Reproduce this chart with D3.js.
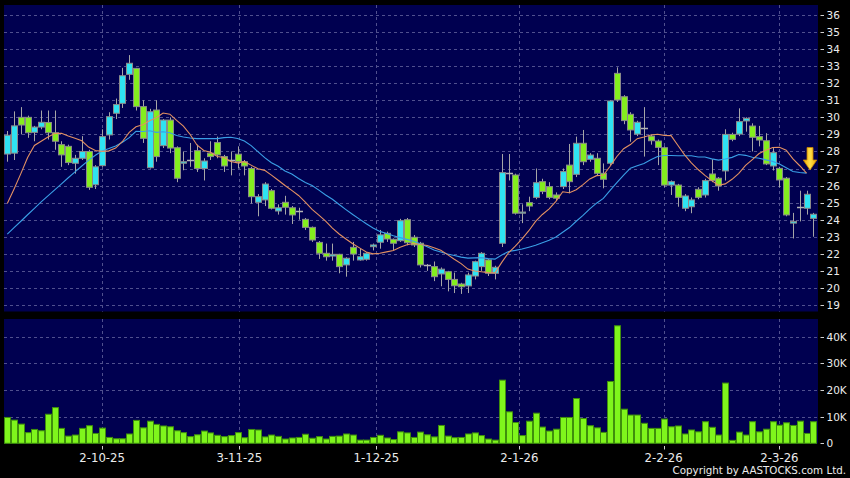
<!DOCTYPE html>
<html><head><meta charset="utf-8">
<script src="https://cdn.jsdelivr.net/npm/d3@7"></script>
<style>html,body{margin:0;padding:0;background:#000;}svg{display:block;}</style>
</head><body>
<svg id="chart" width="850" height="478"></svg>
<script>
// ---- data ----
const openP = [27.85,27.9,30.0,30.0,29.12,29.43,29.7,29.1,28.4,28.3,27.31,27.6,28.0,26.05,27.17,28.97,30.24,30.82,32.52,32.87,
30.63,27.05,30.43,28.34,29.84,28.22,27.31,27.5,28.05,27.0,27.9,28.52,27.7,27.5,27.84,27.4,27.0,25.02,25.16,25.7,
24.51,25.02,24.7,24.5,24.02,23.55,22.67,22.03,21.87,21.97,21.35,22.38,21.64,21.68,22.42,22.68,23.2,22.85,22.77,24.0,
22.97,22.62,21.32,21.25,20.82,20.95,20.5,20.23,20.12,20.7,21.25,21.64,20.86,22.62,26.76,26.62,24.38,25.0,25.31,26.23,
25.94,25.45,25.94,27.2,26.66,28.48,27.54,27.6,26.72,27.31,32.58,31.21,30.18,29.02,29.4,28.9,28.61,28.22,26.03,26.03,
24.67,24.76,25.78,25.45,26.68,26.43,26.86,29.0,29.02,29.79,29.49,28.87,28.63,27.15,27.01,26.43,23.8,24.73,24.67,24.08];
const highP = [29.2,30.35,30.6,30.1,29.5,30.4,30.4,30.4,28.6,28.4,27.8,28.9,28.1,27.2,29.3,30.3,31.1,32.9,33.65,32.9,
31.0,30.5,31.0,29.9,30.0,28.3,28.0,28.5,28.4,27.6,28.6,28.87,27.8,28.0,28.3,27.5,27.1,25.5,26.2,25.8,
24.9,25.4,24.8,24.7,24.1,23.6,22.75,22.6,22.6,22.0,21.8,22.7,22.3,22.1,22.6,23.4,23.3,22.9,24.05,24.1,
23.1,22.7,21.4,21.55,21.2,21.0,20.9,20.3,20.9,21.6,22.1,21.7,21.3,27.85,27.85,26.7,24.9,25.35,27.0,26.4,
26.2,25.6,27.0,28.44,28.87,29.26,27.9,27.9,27.3,31.0,32.93,31.3,30.3,29.8,30.6,29.0,28.7,28.3,26.3,26.1,
25.5,25.3,25.9,26.4,27.54,26.5,29.3,29.1,30.53,30.0,29.65,29.5,29.07,28.2,27.1,26.5,24.4,25.7,25.7,24.4];
const lowP = [27.4,27.5,29.0,28.8,28.6,29.3,28.7,28.1,27.1,27.2,26.7,27.5,25.75,25.8,27.1,28.7,29.9,30.55,32.2,30.4,
28.5,27.0,27.4,28.2,27.9,26.2,26.9,27.1,26.8,26.3,27.5,27.6,26.8,26.6,27.0,26.6,24.95,24.2,24.8,24.6,
24.3,24.3,23.75,24.0,23.4,22.7,21.7,21.6,21.6,20.86,20.66,21.6,21.6,21.6,22.2,22.3,22.7,22.2,22.7,22.5,
22.4,21.2,21.0,20.4,20.1,19.8,19.7,19.65,19.7,20.5,21.0,20.7,20.5,22.4,26.3,24.3,23.8,24.5,25.2,25.5,
25.2,25.1,25.8,25.55,26.5,27.2,27.4,26.6,25.84,27.2,30.9,29.6,28.57,28.9,27.7,28.4,27.2,25.9,25.45,24.76,
24.5,24.38,25.2,25.3,26.2,25.7,26.3,28.6,28.9,29.16,28.0,28.3,27.2,26.88,25.9,24.2,22.9,23.9,24.3,23.0];
const closeP = [28.95,29.5,29.55,29.1,29.43,29.71,29.1,28.6,27.8,27.35,27.6,28.0,25.9,27.1,28.87,30.04,30.75,32.44,33.17,30.63,
28.77,30.33,27.7,29.84,28.2,26.43,27.4,27.5,27.0,27.44,27.7,27.8,27.15,27.5,27.4,27.15,25.35,25.35,26.09,24.67,
24.7,24.73,24.28,24.5,23.55,22.81,22.03,21.83,21.97,21.25,21.74,21.99,21.83,22.03,22.52,23.11,22.87,22.62,23.94,22.65,
22.52,21.35,21.32,20.66,21.1,20.5,20.13,20.07,20.76,21.54,22.03,20.86,21.21,26.76,26.76,24.38,24.45,24.8,26.17,25.65,
25.31,25.26,26.82,26.23,28.48,27.4,27.79,26.72,26.37,30.96,31.02,29.81,29.26,29.71,29.4,28.63,28.24,26.03,26.23,25.31,
25.39,25.16,25.31,26.29,26.29,25.98,29.0,28.71,29.75,29.94,28.83,28.67,27.27,27.93,26.33,24.28,23.9,24.73,25.49,24.32];
const volumeK = [9.7,8.7,7.2,4.0,5.2,4.7,10.9,13.4,5.6,2.7,3.1,5.6,6.6,3.7,5.7,2.2,1.7,1.7,3.5,8.6,
5.8,8.3,7.1,6.5,6.2,4.7,4.0,2.5,3.2,4.6,3.9,3.0,2.5,2.9,4.0,2.1,5.2,5.0,2.4,3.1,
2.6,1.6,2.0,2.2,3.4,1.9,2.5,1.6,2.6,2.7,3.5,3.1,1.2,1.2,2.2,3.0,2.0,1.4,4.3,3.9,
2.2,4.2,3.2,2.4,6.7,2.7,2.1,2.2,3.5,3.9,2.9,1.6,1.2,23.7,11.8,7.8,2.9,8.3,11.3,6.1,
4.6,5.3,9.7,9.7,16.8,9.3,6.6,5.8,4.1,23.2,44.1,12.8,10.6,10.6,7.5,5.6,5.6,9.1,6.2,6.5,
3.5,5.0,4.3,8.1,6.0,3.1,22.6,1.1,4.2,3.1,8.1,4.3,5.3,8.1,6.8,7.7,6.7,8.3,3.7,8.1];
const ma10Head = [24.95,25.8,26.7,27.65,28.35,28.6,28.85,29.05,29.07];
const ma20Head = [23.16,23.54,23.91,24.29,24.66,25.04,25.4,25.75,26.1,26.46,26.8,27.15,27.48,27.78,28.03,28.17,28.32,28.54,28.81];
const maPoints = 119; // MA lines stop one session before the last candle
const priceTicks = [19,20,21,22,23,24,25,26,27,28,29,30,31,32,33,34,35,36];
const volumeTicks = [0,10,20,30,40];
const volumeTickLabels = ["0","10K","20K","30K","40K"];
const dateLabels = ["2-10-25","3-11-25","1-12-25","2-1-26","2-2-26","2-3-26"];
const dateIndex = [14,34.25,54.5,75.6,96.9,114];

// ---- layout ----
const W = 850, H = 478;
const L = 4, R = 818;
const pTop = 5, pBot = 311.5;
const vTop = 319, vBot = 443.5;
const n = closeP.length;

const svg = d3.select("#chart");
const x = d3.scaleLinear().domain([0, n - 1]).range([7.3, 813.3]);
const y = d3.scaleLinear().domain([19, 36]).range([305, 15]);
const yv = d3.scaleLinear().domain([0, 40]).range([443.3, 336.7]);
const px = v => Math.round(v) + 0.5;

const PANEL = "#000050", GRID = "#50508e";
const CYAN = "#2fe3f2", GREEN = "#84ee1e", EDGE = "#8a8a8a", WICK = "#a6a6a6";
const FONT = "DejaVu Sans, Verdana, sans-serif";

const defs = svg.append("defs");
defs.append("clipPath").attr("id","clipP").append("rect").attr("x",L).attr("y",pTop).attr("width",R-L).attr("height",pBot-pTop);
const grad = defs.append("linearGradient").attr("id","arrowG").attr("x1",0).attr("x2",1).attr("y1",0).attr("y2",0);
grad.append("stop").attr("offset","0%").attr("stop-color","#f0a800");
grad.append("stop").attr("offset","50%").attr("stop-color","#ffe04a");
grad.append("stop").attr("offset","100%").attr("stop-color","#f0a800");

svg.append("rect").attr("width",W).attr("height",H).attr("fill","#000");
svg.append("rect").attr("x",L).attr("y",pTop).attr("width",R-L).attr("height",pBot-pTop).attr("fill",PANEL);
svg.append("rect").attr("x",L).attr("y",vTop).attr("width",R-L).attr("height",vBot-vTop).attr("fill",PANEL);

// grids
const g = svg.append("g").attr("stroke",GRID).attr("stroke-width",1).attr("stroke-dasharray","3,3").attr("fill","none");
g.selectAll(".hp").data(priceTicks).join("line").attr("x1",L).attr("x2",R).attr("y1",d=>px(y(d))).attr("y2",d=>px(y(d)));
g.selectAll(".hv").data(volumeTicks.slice(1)).join("line").attr("x1",L).attr("x2",R).attr("y1",d=>px(yv(d))).attr("y2",d=>px(yv(d)));
g.selectAll(".vp").data(dateIndex).join("line").attr("x1",d=>px(x(d))).attr("x2",d=>px(x(d))).attr("y1",pTop).attr("y2",pBot);
g.selectAll(".vv").data(dateIndex).join("line").attr("x1",d=>px(x(d))).attr("x2",d=>px(x(d))).attr("y1",vTop).attr("y2",vBot);

// candles
const idx = d3.range(n);
const cg = svg.append("g").attr("clip-path","url(#clipP)");
cg.selectAll(".wick").data(idx).join("line")
  .attr("x1",i=>px(x(i))).attr("x2",i=>px(x(i)))
  .attr("y1",i=>y(highP[i])).attr("y2",i=>y(lowP[i]))
  .attr("stroke",WICK).attr("stroke-width",1);
const bodies = idx.filter(i => closeP[i] !== openP[i]);
cg.selectAll(".body").data(bodies).join("rect")
  .attr("x",i=>Math.round(x(i))-2.5).attr("width",6)
  .attr("y",i=>y(Math.max(openP[i],closeP[i])))
  .attr("height",i=>Math.max(1,Math.abs(y(openP[i])-y(closeP[i]))))
  .attr("fill",i=>closeP[i]>openP[i]?CYAN:GREEN)
  .attr("stroke",EDGE).attr("stroke-width",1);
cg.selectAll(".doji").data(idx.filter(i=>closeP[i]===openP[i])).join("line")
  .attr("x1",i=>Math.round(x(i))-3).attr("x2",i=>Math.round(x(i))+4)
  .attr("y1",i=>px(y(openP[i]))).attr("y2",i=>px(y(openP[i])))
  .attr("stroke","#b4b4b4").attr("stroke-width",1.5);

// moving averages
const ma = (head, len) => d3.range(maPoints).map(i => i < len - 1 ? head[i] : d3.mean(closeP.slice(i - len + 1, i + 1)));
const ma10 = ma(ma10Head, 10), ma20 = ma(ma20Head, 20);
const line = d3.line().x((d,i)=>x(i)).y(d=>y(d));
cg.append("path").datum(ma20).attr("d",line).attr("fill","none").attr("stroke","#3a9fe6").attr("stroke-width",1.1);
cg.append("path").datum(ma10).attr("d",line).attr("fill","none").attr("stroke","#e39062").attr("stroke-width",1.1);

// arrow marker at the end of the averages
const tx = x(maPoints - 1) + 3.5, ty = y(ma10[maPoints - 1]) - 3;
svg.append("path")
  .attr("d",`M${tx-3},${ty-22.5} L${tx+3},${ty-22.5} L${tx+3},${ty-10} L${tx+6.8},${ty-10} L${tx},${ty} L${tx-6.8},${ty-10} L${tx-3},${ty-10} Z`)
  .attr("fill","url(#arrowG)").attr("stroke","#c88400").attr("stroke-width",0.8);

// volume bars
svg.append("g").selectAll("rect").data(idx).join("rect")
  .attr("x",i=>Math.round(x(i))-2.5).attr("width",6)
  .attr("y",i=>yv(volumeK[i])).attr("height",i=>yv(0)-yv(volumeK[i]))
  .attr("fill","#7ff51c").attr("stroke","#3f8f0c").attr("stroke-width",1);

// right axes
const ax = svg.append("g").attr("font-family",FONT).attr("font-size","10.5px").attr("fill","#ececec");
ax.selectAll(".tp").data(priceTicks).join("line").attr("x1",820.5).attr("x2",824).attr("y1",d=>px(y(d))).attr("y2",d=>px(y(d))).attr("stroke","#cfcfcf");
ax.selectAll(".lp").data(priceTicks).join("text").attr("x",826.5).attr("y",d=>y(d)+4).text(d=>d);
ax.selectAll(".tv").data(volumeTicks).join("line").attr("x1",820.5).attr("x2",824).attr("y1",d=>px(yv(d))).attr("y2",d=>px(yv(d))).attr("stroke","#cfcfcf");
ax.selectAll(".lv").data(volumeTicks).join("text").attr("x",826.5).attr("y",d=>yv(d)+4).text((d,i)=>volumeTickLabels[i]);

// date axis
const dx = svg.append("g").attr("font-family",FONT).attr("font-size","11.7px").attr("fill","#ececec");
dx.selectAll("line").data(dateIndex).join("line").attr("x1",d=>px(x(d))).attr("x2",d=>px(x(d))).attr("y1",446).attr("y2",449.5).attr("stroke","#cfcfcf");
dx.selectAll("text").data(dateIndex).join("text").attr("x",d=>x(d)).attr("y",461.5).attr("text-anchor","middle").text((d,i)=>dateLabels[i]);

svg.append("text").attr("x",846).attr("y",474).attr("text-anchor","end")
  .attr("font-family",FONT).attr("font-size","10.3px").attr("fill","#ececec").text("Copyright by AASTOCKS.com Ltd.");
</script>
</body></html>
